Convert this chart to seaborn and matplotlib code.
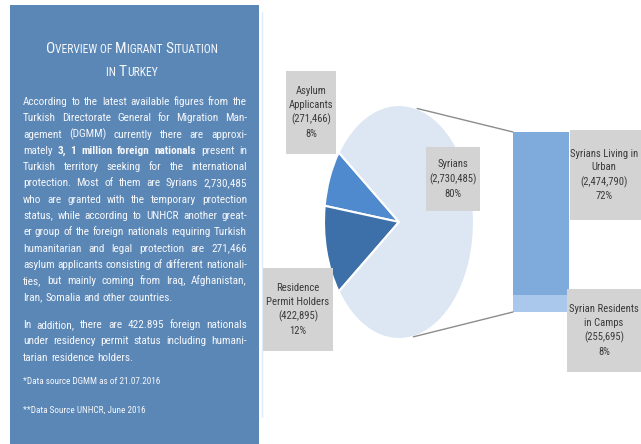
import numpy as np
import pandas as pd
import seaborn as sns
import matplotlib.pyplot as plt
from matplotlib.patches import Rectangle, ConnectionPatch
from matplotlib.lines import Line2D

# chart data
pie_names = ['Asylum\nApplicants', 'Residence\nPermit Holders', 'Syrians']
pie_values = [271466, 422895, 2730485]
pie_pct = [8, 12, 80]
pie_colors = ['#4f8ace', '#3d70a8', '#dde7f3']

bar_names = ['Syrians Living in\nUrban', 'Syrian Residents\nin Camps']
bar_values = [2474790, 255695]
bar_pct = [72, 8]
bar_colors = ['#7eaadc', '#aac8ec']

# panel text
title_lines = ['Overview of Migrant Situation', 'in Turkey']
para1 = [
    "According to the latest available figures from the",
    "Turkish Directorate General for Migration Man-",
    "agement (DGMM) currently there are approxi-",
    "mately **3, 1 million foreign nationals** present in",
    "Turkish territory seeking for the international",
    "protection. Most of them are Syrians 2,730,485",
    "who are granted with the temporary protection",
    "status, while according to UNHCR another great-",
    "er group of the foreign nationals requiring Turkish",
    "humanitarian and legal protection are 271,466",
    "asylum applicants consisting of different nationali-",
    "ties, but mainly coming from Iraq, Afghanistan,",
    "Iran, Somalia and other countries.",
]
para2 = [
    "In addition, there are 422.895 foreign nationals",
    "under residency permit status including humani-",
    "tarian residence holders.",
]
notes = ["*Data source DGMM as of 21.07.2016", "**Data Source UNHCR, June 2016"]

sns.set_theme(style='white')
plt.rcParams['font.family'] = ['Roboto Condensed', 'DejaVu Sans']

W, H = 641, 444
fig = plt.figure(figsize=(W / 100, H / 100), dpi=100)
renderer = fig.canvas.get_renderer()


def px(x, y):
    return (x / W, 1 - y / H)


def rect(x0, y0, x1, y1):
    return [x0 / W, 1 - y1 / H, (x1 - x0) / W, (y1 - y0) / H]


def width_of(s, size, weight='normal'):
    t = fig.text(0, 0, s, fontsize=size, fontweight=weight)
    w = t.get_window_extent(renderer).width
    t.remove()
    return w


# blue panel on the left
fig.add_artist(Rectangle(px(10, 450), 249 / W, 445 / H, transform=fig.transFigure,
                         facecolor='#5b87b6', edgecolor='none', zorder=0))
fig.add_artist(Line2D([262 / W, 262 / W], [1 - 12 / H, 1 - 417 / H],
                      color='#e0ecf9', lw=1, zorder=0))

# pie (stretched into an ellipse)
ax_pie = fig.add_axes(rect(324, 105, 474, 339))
ax_pie.pie(pie_values, colors=pie_colors, startangle=143.5,
           wedgeprops=dict(edgecolor='white', linewidth=1.5))
ax_pie.set_aspect('auto')
ax_pie.set_xlim(-1, 1)
ax_pie.set_ylim(-1, 1)
ax_pie.axis('off')

# stacked bar for the Syrians split
ax_bar = fig.add_axes(rect(513, 132, 569, 312))
total = sum(bar_values)
sns.barplot(x=['Syrians'], y=[total], color=bar_colors[0], saturation=1,
            errorbar=None, linewidth=0, ax=ax_bar)
sns.barplot(x=['Syrians'], y=[bar_values[1]], color=bar_colors[1], saturation=1,
            errorbar=None, linewidth=0, ax=ax_bar)
ax_bar.set_xlim(-0.4, 0.4)
ax_bar.set_ylim(0, total)
ax_bar.axis('off')

# connector lines pie -> bar
for ang, yb in [(76, total), (-79, 0)]:
    con = ConnectionPatch(xyA=(np.cos(np.radians(ang)), np.sin(np.radians(ang))),
                          coordsA=ax_pie.transData, xyB=(-0.4, yb),
                          coordsB=ax_bar.transData, color='#8c8c8c', lw=1)
    fig.add_artist(con)

LAB = 7.7


def label_box(x0, y0, x1, y1, text, cx=None):
    fig.add_artist(Rectangle(px(x0, y1), (x1 - x0) / W, (y1 - y0) / H,
                             transform=fig.transFigure, facecolor='#d3d3d3',
                             edgecolor='none', zorder=5))
    if cx is None:
        cx = (x0 + x1) / 2
    fig.text(*px(cx, (y0 + y1) / 2), text, ha='center', va='center',
             fontsize=LAB, color='#3a3a3a', linespacing=1.45, zorder=6)


pie_boxes = [(286, 71, 336, 154), (263, 268, 333, 351), (426, 147, 480, 211)]
for (x0, y0, x1, y1), nm, v, p in zip(pie_boxes, pie_names, pie_values, pie_pct):
    label_box(x0, y0, x1, y1, f"{nm}\n({v:,})\n{p}%")

bar_boxes = [(570, 130, 645, 220), (567, 289, 645, 372)]
for (x0, y0, x1, y1), nm, v, p in zip(bar_boxes, bar_names, bar_values, bar_pct):
    label_box(x0, y0, x1, y1, f"{nm}\n({v:,})\n{p}%", cx=604)

# panel title in small caps
TXT = '#f5f7fb'


def small_caps(y, s, cx=132, big=12.5, small=9.5):
    runs = []
    for ch in s:
        size = big if ch.isupper() else small
        if runs and runs[-1][1] == size:
            runs[-1][0] += ch.upper()
        else:
            runs.append([ch.upper(), size])
    texts = [fig.text(0, 0, r, fontsize=sz, color=TXT, va='baseline') for r, sz in runs]
    widths = [t.get_window_extent(renderer).width for t in texts]
    x = cx - sum(widths) / 2
    for t, w in zip(texts, widths):
        t.set_position(px(x, y))
        x += w


k_title = min(1.0, 180 / width_of('OVERVIEW OF MIGRANT SITUATION', 10.3))
small_caps(53, title_lines[0], big=12.5 * k_title, small=9.5 * k_title)
small_caps(76, title_lines[1], big=12.5 * k_title, small=9.5 * k_title)

# justified body text, one text per word
X0, X1 = 23, 247
BODY = 8.1


def split_words(line):
    words = []
    for i, seg in enumerate(line.split('**')):
        for w in seg.split():
            words.append((w, i % 2 == 1))
    return words


def text_line(y, line, justify, size):
    words = split_words(line)
    texts = [fig.text(0, 0, w, fontsize=size, color=TXT, va='baseline',
                      fontweight='bold' if b else 'normal') for w, b in words]
    widths = [t.get_window_extent(renderer).width for t in texts]
    if justify and len(words) > 1:
        gap = (X1 - X0 - sum(widths)) / (len(words) - 1)
    else:
        gap = size * 0.35
    x = X0
    for t, w in zip(texts, widths):
        t.set_position(px(x, y))
        x += w + gap


for i, line in enumerate(para1):
    text_line(105 + 16.3 * i, line, i < len(para1) - 1, BODY)
for i, line in enumerate(para2):
    text_line(328 + 16.3 * i, line, i < len(para2) - 1, BODY)

note_size = min(7.2, 7.2 * 137 / width_of(notes[0], 7.2))
fig.text(*px(X0, 381), notes[0], fontsize=note_size, color=TXT, va='center')
fig.text(*px(X0, 410), notes[1], fontsize=note_size, color=TXT, va='center')

fig.savefig('out.png', dpi=100)
